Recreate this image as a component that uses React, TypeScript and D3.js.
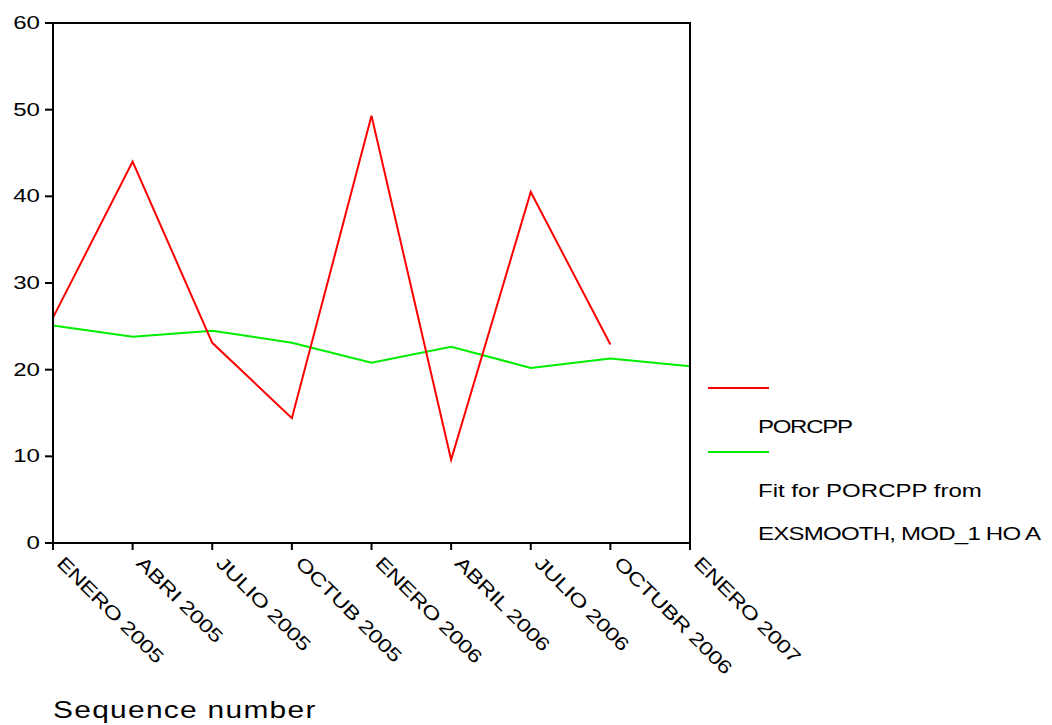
import React from "react";
import * as d3 from "d3";

const categories = [
  "ENERO 2005",
  "ABRI 2005",
  "JULIO 2005",
  "OCTUB 2005",
  "ENERO 2006",
  "ABRIL 2006",
  "JULIO 2006",
  "OCTUBR 2006",
  "ENERO 2007",
];
const porcpp = [26.0, 44.0, 23.1, 14.4, 49.3, 9.6, 40.5, 22.9];
const fitPorcpp = [25.1, 23.8, 24.5, 23.1, 20.8, 22.65, 20.2, 21.3, 20.4];
const yTicks = [0, 10, 20, 30, 40, 50, 60];
const legendLabels = ["PORCPP", "Fit for PORCPP from", "EXSMOOTH, MOD_1 HO A"];

const W = 1052;
const H = 725;
const left = 53;
const right = 690;
const top = 23;
const bottom = 543;
const font = "'Liberation Sans', Arial, sans-serif";
// glyphs are drawn wide, as in the original export
const stretch = 1.3;

export default function App() {
  const x = d3.scaleLinear().domain([0, categories.length - 1]).range([left, right]);
  const y = d3.scaleLinear().domain([0, 60]).range([bottom, top]);
  const line = d3
    .line<number>()
    .x((_, i) => x(i))
    .y((d) => y(d));

  return (
    <svg
      width={W}
      height={H}
      style={{ position: "absolute", left: 0, top: 0, background: "#fff" }}
      fontFamily={font}
    >
      <rect width={W} height={H} fill="#fff" />
      {/* series */}
      <path d={line(fitPorcpp) || ""} fill="none" stroke="#00ee00" strokeWidth={2} />
      <path d={line(porcpp) || ""} fill="none" stroke="#ff0000" strokeWidth={2} />

      {/* frame */}
      <path
        d={`M${left},${top}H${right}V${bottom}H${left}Z`}
        fill="none"
        stroke="#000"
        strokeWidth={2}
      />

      {/* y axis */}
      {yTicks.map((t) => (
        <g key={t}>
          <line x1={left - 8} x2={left} y1={y(t)} y2={y(t)} stroke="#000" strokeWidth={2} />
          <text
            transform={`translate(${left - 13},${y(t)}) scale(${stretch},1)`}
            textAnchor="end"
            dominantBaseline="central"
            fontSize={18.5}
            fill="#000"
          >
            {t}
          </text>
        </g>
      ))}

      {/* x axis */}
      {categories.map((c, i) => (
        <g key={c}>
          <line x1={x(i)} x2={x(i)} y1={bottom} y2={bottom + 7} stroke="#000" strokeWidth={2} />
          <text
            transform={`translate(${x(i) + 12},${bottom + 12}) rotate(45) scale(${stretch},1)`}
            textAnchor="start"
            dominantBaseline="hanging"
            fontSize={18.5}
            letterSpacing={-0.3}
            fill="#000"
          >
            {c}
          </text>
        </g>
      ))}

      <text
        transform={`translate(53,718) scale(${stretch},1)`}
        fontSize={23}
        fill="#000"
        letterSpacing={1}
      >
        Sequence number
      </text>

      {/* legend */}
      <line x1={708} x2={769} y1={388} y2={388} stroke="#ff0000" strokeWidth={2} />
      <line x1={708} x2={769} y1={452} y2={452} stroke="#00ee00" strokeWidth={2} />
      {legendLabels.map((l, i) => (
        <text
          key={l}
          transform={`translate(758,${[433, 497, 540][i]}) scale(${stretch},1)`}
          fontSize={18.5}
          fill="#000"
          letterSpacing={[-1, 0, -0.6][i]}
        >
          {l}
        </text>
      ))}
    </svg>
  );
}
